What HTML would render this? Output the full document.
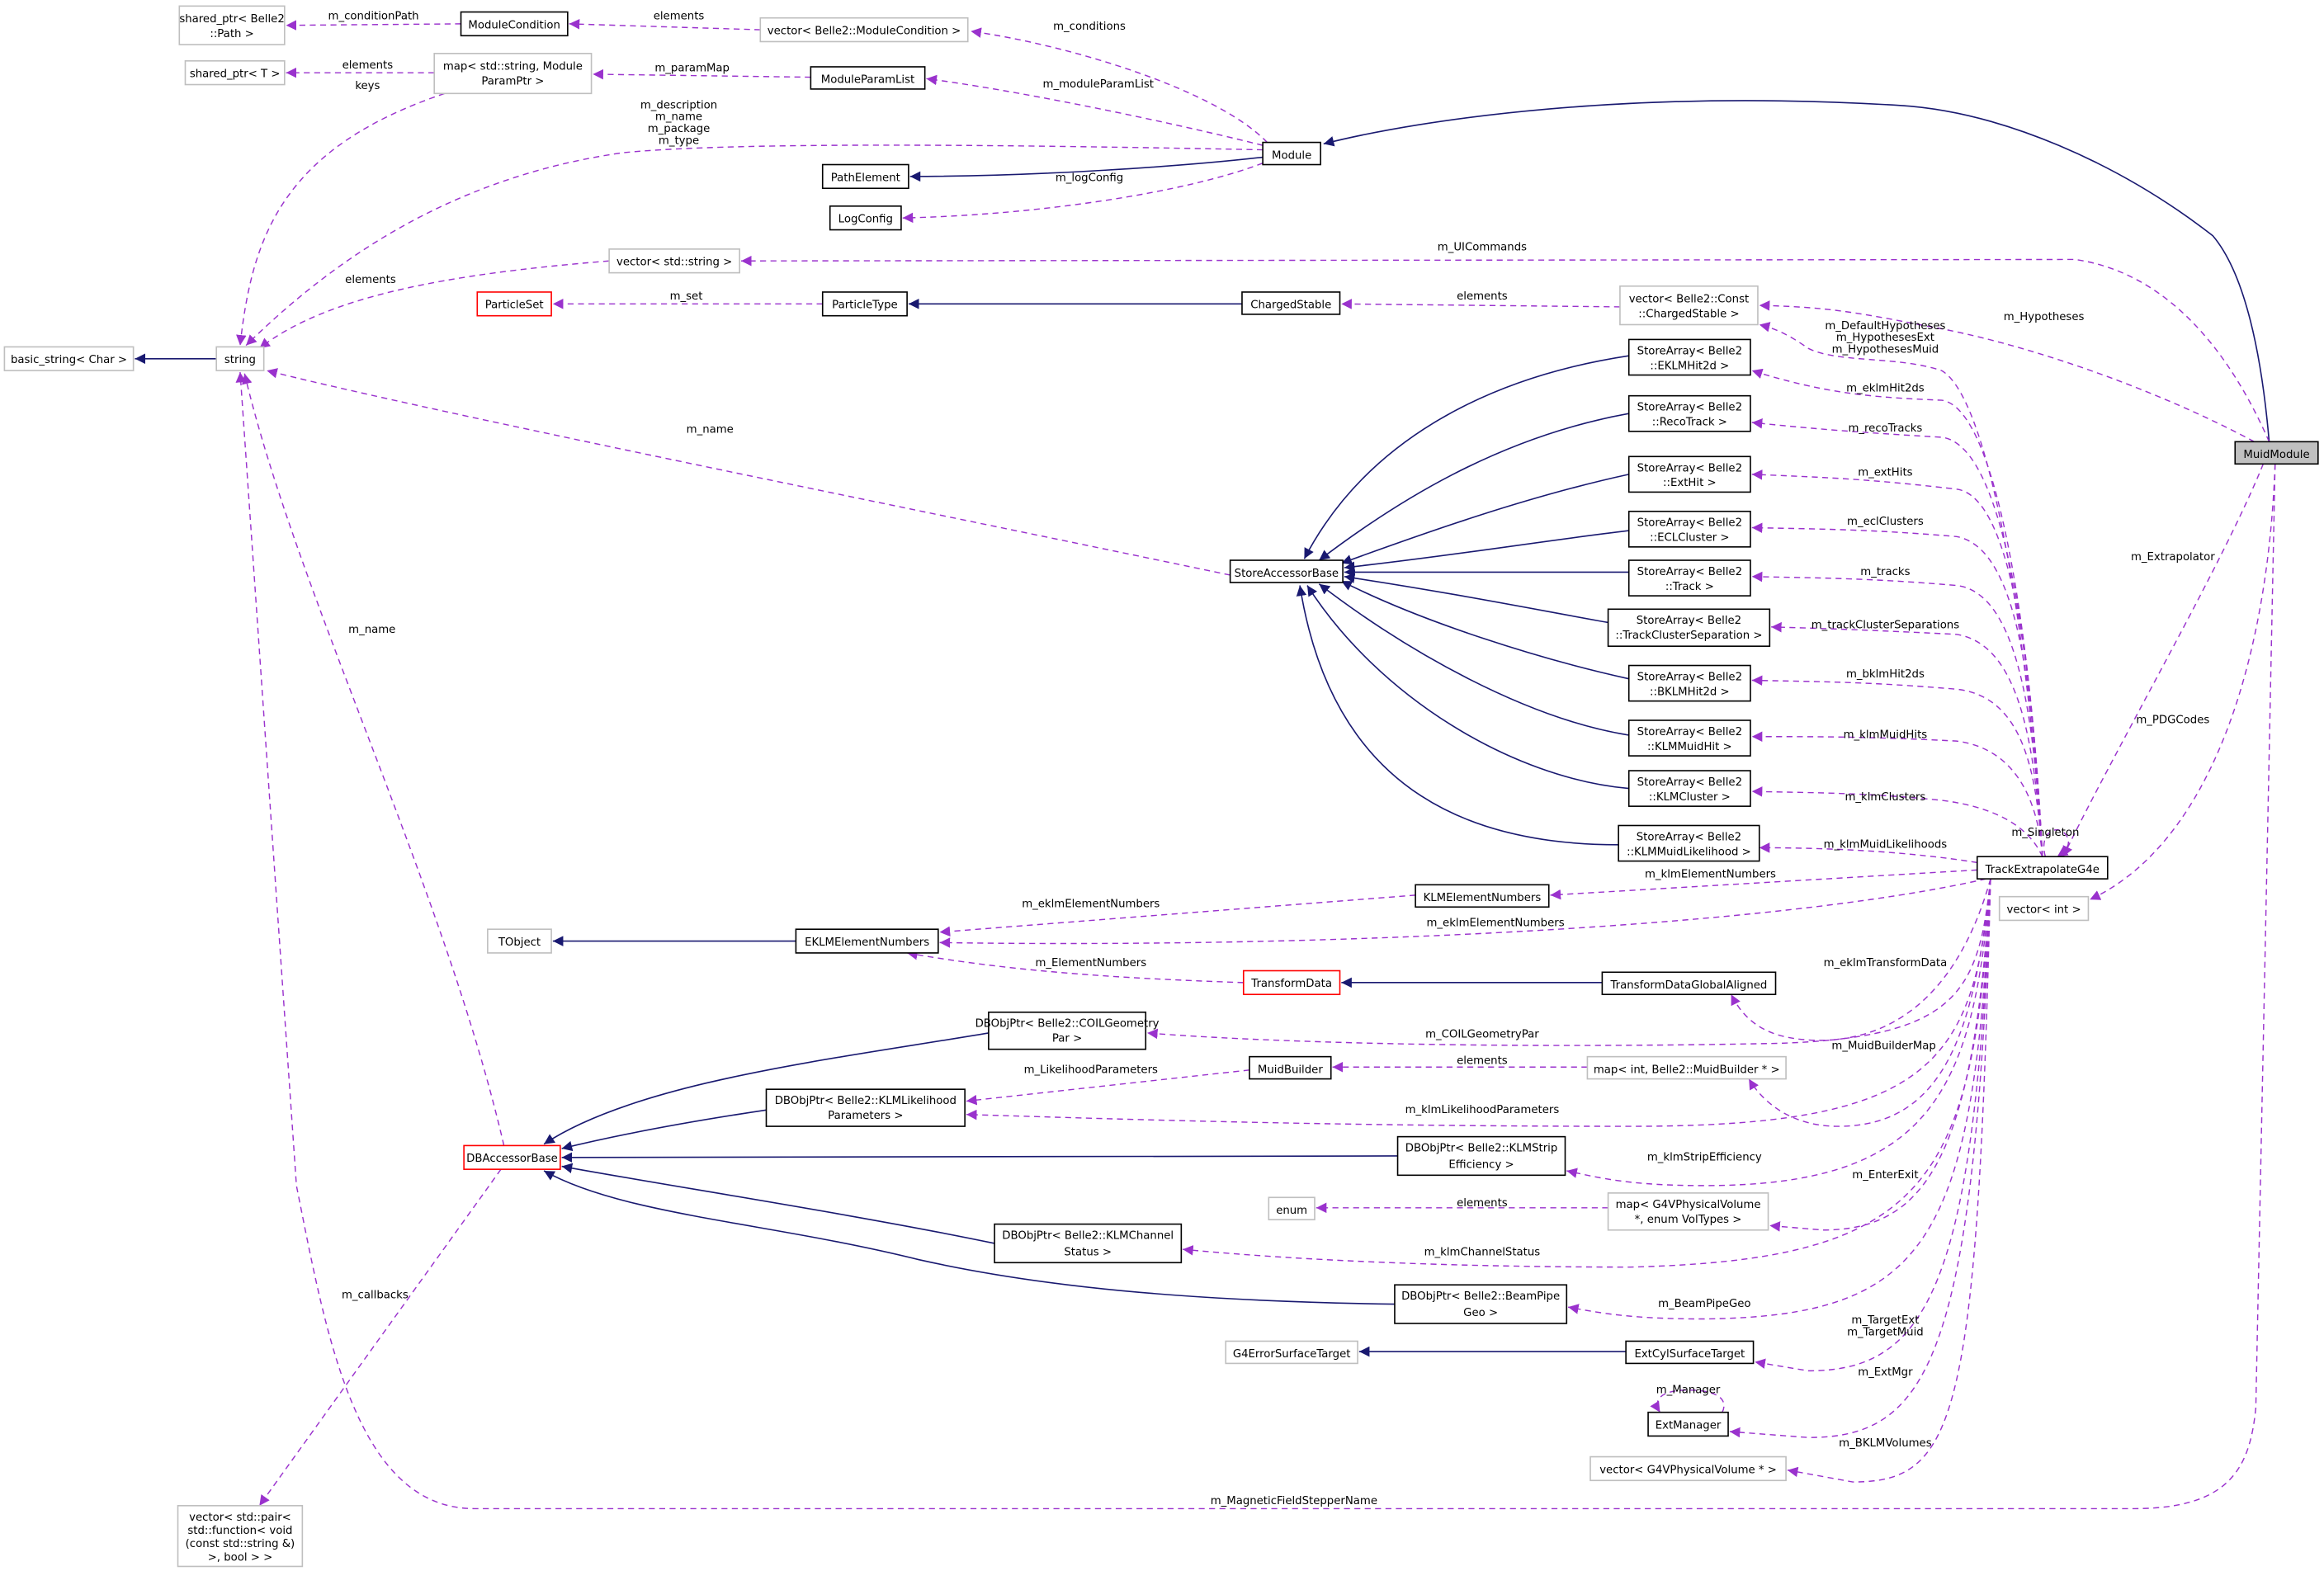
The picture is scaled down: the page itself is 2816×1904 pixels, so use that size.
<!DOCTYPE html>
<html><head><meta charset="utf-8"><style>
html,body{margin:0;padding:0;background:#fff;}
svg{display:block;}
text{font-family:"DejaVu Sans","Liberation Sans",sans-serif;font-size:7.4px;fill:#000;}
.b{fill:#fff;stroke:#000;stroke-width:0.9;}
.g{fill:#fff;stroke:#bfbfbf;stroke-width:0.9;}
.r{fill:#fff;stroke:#ff0000;stroke-width:0.9;}
.s{fill:#c0c0c0;stroke:#000;stroke-width:0.9;}
.n{fill:none;stroke:#191970;stroke-width:0.9;}
.p{fill:none;stroke:#9a32cd;stroke-width:0.8;stroke-dasharray:4,3;}
</style></head><body>
<svg width="2816" height="1904" viewBox="0 0 1568 1060" xmlns="http://www.w3.org/2000/svg">
<defs>
<marker id="an" viewBox="0 0 10 10" refX="10" refY="5" markerWidth="7" markerHeight="7" orient="auto" markerUnits="userSpaceOnUse"><path d="M0,0 L10,5 L0,10 z" fill="#191970"/></marker>
<marker id="ap" viewBox="0 0 10 10" refX="10" refY="5" markerWidth="7" markerHeight="7" orient="auto" markerUnits="userSpaceOnUse"><path d="M0,0 L10,5 L0,10 z" fill="#9a32cd"/></marker>
</defs>
<rect width="1568" height="1060" fill="#fff"/>

<g marker-end="url(#an)">
<path class="n" d="M1531,298 C1526,240 1515,185 1493,159 C1430,110 1350,75 1281,71 C1100,60 960,80 893,97"/>
<path class="n" d="M852,106 C800,112 700,119 614,119"/>
<path class="n" d="M838,205 L613,205"/>
<path class="n" d="M146,242 L91,242"/>
<path class="n" d="M1099,240 C1000,255 920,300 880,377"/>
<path class="n" d="M1099,279 C1010,295 940,340 890,378"/>
<path class="n" d="M1099,320 C1030,335 960,360 905,380"/>
<path class="n" d="M1099,358 C1040,365 980,375 907,383"/>
<path class="n" d="M1099,386 L907,386"/>
<path class="n" d="M1085,420 C1040,412 980,400 907,389"/>
<path class="n" d="M1099,458 C1040,445 960,420 905,392"/>
<path class="n" d="M1099,496 C1030,485 950,440 890,394"/>
<path class="n" d="M1099,532 C1020,525 930,470 882,395"/>
<path class="n" d="M1092,570 C1000,570 900,540 877,395"/>
<path class="n" d="M1081,663 L905,663"/>
<path class="n" d="M1097,912 L917,912"/>
<path class="n" d="M537,635 L373,635"/>
<path class="n" d="M667,697 C560,715 430,730 367,772"/>
<path class="n" d="M517,749 C470,756 420,765 379,775"/>
<path class="n" d="M943,780 L379,781"/>
<path class="n" d="M671,839 C580,820 450,800 379,787"/>
<path class="n" d="M941,880 C800,878 700,868 620,850 C520,825 420,820 367,790"/>
</g>

<g marker-end="url(#ap)">
<path class="p" d="M311,16 L193,17"/>
<path class="p" d="M513,20 L384,16"/>
<path class="p" d="M855,96 C820,60 720,30 655,21"/>
<path class="p" d="M293,49 L193,49"/>
<path class="p" d="M547,52 L400,50"/>
<path class="p" d="M852,98 C780,80 680,60 625,53"/>
<path class="p" d="M300,63 C190,100 170,160 162,233"/>
<path class="p" d="M852,101 C700,98 500,95 420,103 C300,120 220,180 166,233"/>
<path class="p" d="M852,110 C800,130 700,145 609,147"/>
<path class="p" d="M1531,298 C1510,250 1470,185 1400,175 L500,176"/>
<path class="p" d="M411,176 C300,185 220,200 175,235"/>
<path class="p" d="M555,205 L373,205"/>
<path class="p" d="M1093,207 L905,205"/>
<path class="p" d="M1521,298 C1450,260 1360,230 1300,220 C1250,210 1230,207 1187,206"/>
<path class="p" d="M1378,578 C1370,450 1345,270 1310,250 C1280,240 1240,245 1220,235 C1210,228 1200,222 1187,219"/>
<path class="p" d="M830,388 C600,340 300,280 180,250"/>
<path class="p" d="M1378,578 C1372,450 1350,275 1310,270 C1260,268 1230,265 1182,250"/>
<path class="p" d="M1378,578 C1372,460 1355,300 1310,295 C1260,292 1230,290 1182,285"/>
<path class="p" d="M1378,578 C1372,470 1360,335 1320,330 C1260,323 1230,322 1182,320"/>
<path class="p" d="M1378,578 C1372,480 1365,370 1320,362 C1260,357 1230,357 1182,356"/>
<path class="p" d="M1378,578 C1373,500 1365,400 1320,395 C1260,390 1230,390 1182,389"/>
<path class="p" d="M1378,578 C1373,510 1365,435 1320,428 C1260,425 1230,424 1195,423"/>
<path class="p" d="M1378,578 C1374,520 1365,470 1320,465 C1260,460 1230,460 1182,459"/>
<path class="p" d="M1378,578 C1375,540 1360,505 1320,500 C1260,497 1230,497 1182,497"/>
<path class="p" d="M1378,578 C1370,560 1350,545 1310,540 C1260,535 1230,535 1182,534"/>
<path class="p" d="M1334,582 C1290,575 1240,572 1187,572"/>
<path class="p" d="M1380,578 C1375,560 1390,555 1395,565 C1397,570 1394,574 1388,578"/>
<path class="p" d="M1527,313 C1500,380 1430,500 1392,578"/>
<path class="p" d="M1535,313 C1530,450 1490,570 1410,607"/>
<path class="p" d="M1535,313 L1522,950 C1518,990 1505,1018 1440,1018 L320,1018 C240,1018 220,900 200,800 L162,251"/>
<path class="p" d="M1334,587 L1046,604"/>
<path class="p" d="M955,604 L634,629"/>
<path class="p" d="M1340,593 C1200,625 900,640 634,636"/>
<path class="p" d="M839,663 C750,660 680,655 612,643"/>
<path class="p" d="M1343,593 C1330,640 1300,700 1230,702 C1200,702 1180,695 1168,671"/>
<path class="p" d="M1343,593 C1335,670 1320,700 1200,704 C1000,708 850,703 774,697"/>
<path class="p" d="M1071,720 L899,720"/>
<path class="p" d="M1343,593 C1332,700 1310,760 1240,760 C1210,760 1190,745 1180,728"/>
<path class="p" d="M843,722 L652,743"/>
<path class="p" d="M1343,593 C1332,720 1300,760 1100,760 C900,760 750,755 652,752"/>
<path class="p" d="M1343,593 C1332,740 1300,800 1150,800 C1100,800 1080,795 1057,790"/>
<path class="p" d="M1085,815 L888,815"/>
<path class="p" d="M1343,593 C1332,780 1300,830 1230,830 L1194,827"/>
<path class="p" d="M1343,593 C1332,800 1300,850 1100,855 C950,855 850,848 798,843"/>
<path class="p" d="M1343,593 C1332,840 1300,888 1150,890 C1100,890 1080,886 1058,882"/>
<path class="p" d="M1343,593 C1332,870 1300,925 1220,925 L1184,919"/>
<path class="p" d="M1343,593 C1332,920 1300,970 1220,970 L1167,966"/>
<path class="p" d="M1343,593 C1334,960 1320,1000 1250,1000 L1206,992"/>
<path class="p" d="M1162,953 C1166,945 1160,938 1139,938 C1120,938 1115,945 1120,953"/>
<path class="p" d="M338,789 L175,1016"/>
<path class="p" d="M340,773 C300,600 200,400 165,252"/>
</g>

<g>
<rect class="g" x="121" y="4" width="71" height="26"/><text x="156.5" y="15" text-anchor="middle">shared_ptr&lt; Belle2</text><text x="156.5" y="25" text-anchor="middle">::Path &gt;</text>
<rect class="b" x="311" y="8" width="72" height="16"/><text x="347" y="19" text-anchor="middle">ModuleCondition</text>
<rect class="g" x="513" y="12" width="140" height="16"/><text x="583" y="23" text-anchor="middle">vector&lt; Belle2::ModuleCondition &gt;</text>
<rect class="g" x="125" y="41" width="67" height="16"/><text x="158.5" y="52" text-anchor="middle">shared_ptr&lt; T &gt;</text>
<rect class="g" x="293" y="36" width="106" height="27"/><text x="346" y="47" text-anchor="middle">map&lt; std::string, Module</text><text x="346" y="57" text-anchor="middle">ParamPtr &gt;</text>
<rect class="b" x="547" y="45" width="77" height="15"/><text x="585.5" y="56" text-anchor="middle">ModuleParamList</text>
<rect class="b" x="852" y="96" width="39" height="15"/><text x="871.5" y="107" text-anchor="middle">Module</text>
<rect class="b" x="555" y="111" width="58" height="16"/><text x="584" y="122" text-anchor="middle">PathElement</text>
<rect class="b" x="560" y="139" width="48" height="16"/><text x="584" y="150" text-anchor="middle">LogConfig</text>
<rect class="g" x="411" y="168" width="88" height="16"/><text x="455" y="179" text-anchor="middle">vector&lt; std::string &gt;</text>
<rect class="r" x="322" y="197" width="50" height="16"/><text x="347" y="208" text-anchor="middle">ParticleSet</text>
<rect class="b" x="555" y="197" width="57" height="16"/><text x="583.5" y="208" text-anchor="middle">ParticleType</text>
<rect class="b" x="838" y="197" width="66" height="15"/><text x="871" y="208" text-anchor="middle">ChargedStable</text>
<rect class="g" x="1093" y="193" width="93" height="26"/><text x="1139.5" y="204" text-anchor="middle">vector&lt; Belle2::Const</text><text x="1139.5" y="214" text-anchor="middle">::ChargedStable &gt;</text>
<rect class="g" x="3" y="234" width="87" height="16"/><text x="46.5" y="245" text-anchor="middle">basic_string&lt; Char &gt;</text>
<rect class="g" x="146" y="234" width="32" height="16"/><text x="162" y="245" text-anchor="middle">string</text>
<rect class="s" x="1508" y="298" width="56" height="15"/><text x="1536" y="309" text-anchor="middle">MuidModule</text>
<rect class="b" x="830" y="378" width="76" height="15"/><text x="868" y="389" text-anchor="middle">StoreAccessorBase</text>

<rect class="b" x="1099" y="229" width="82" height="24"/><text x="1140" y="239" text-anchor="middle">StoreArray&lt; Belle2</text><text x="1140" y="249" text-anchor="middle">::EKLMHit2d &gt;</text>
<rect class="b" x="1099" y="267" width="82" height="24"/><text x="1140" y="277" text-anchor="middle">StoreArray&lt; Belle2</text><text x="1140" y="287" text-anchor="middle">::RecoTrack &gt;</text>
<rect class="b" x="1099" y="308" width="82" height="24"/><text x="1140" y="318" text-anchor="middle">StoreArray&lt; Belle2</text><text x="1140" y="328" text-anchor="middle">::ExtHit &gt;</text>
<rect class="b" x="1099" y="345" width="82" height="24"/><text x="1140" y="355" text-anchor="middle">StoreArray&lt; Belle2</text><text x="1140" y="365" text-anchor="middle">::ECLCluster &gt;</text>
<rect class="b" x="1099" y="378" width="82" height="24"/><text x="1140" y="388" text-anchor="middle">StoreArray&lt; Belle2</text><text x="1140" y="398" text-anchor="middle">::Track &gt;</text>
<rect class="b" x="1085" y="411" width="109" height="25"/><text x="1139.5" y="421" text-anchor="middle">StoreArray&lt; Belle2</text><text x="1139.5" y="431" text-anchor="middle">::TrackClusterSeparation &gt;</text>
<rect class="b" x="1099" y="449" width="82" height="24"/><text x="1140" y="459" text-anchor="middle">StoreArray&lt; Belle2</text><text x="1140" y="469" text-anchor="middle">::BKLMHit2d &gt;</text>
<rect class="b" x="1099" y="486" width="82" height="24"/><text x="1140" y="496" text-anchor="middle">StoreArray&lt; Belle2</text><text x="1140" y="506" text-anchor="middle">::KLMMuidHit &gt;</text>
<rect class="b" x="1099" y="520" width="82" height="24"/><text x="1140" y="530" text-anchor="middle">StoreArray&lt; Belle2</text><text x="1140" y="540" text-anchor="middle">::KLMCluster &gt;</text>
<rect class="b" x="1092" y="557" width="95" height="24"/><text x="1139.5" y="567" text-anchor="middle">StoreArray&lt; Belle2</text><text x="1139.5" y="577" text-anchor="middle">::KLMMuidLikelihood &gt;</text>

<rect class="b" x="1334" y="578" width="88" height="15"/><text x="1378" y="589" text-anchor="middle">TrackExtrapolateG4e</text>
<rect class="g" x="1349" y="605" width="60" height="16"/><text x="1379" y="616" text-anchor="middle">vector&lt; int &gt;</text>
<rect class="b" x="955" y="597" width="90" height="15"/><text x="1000" y="608" text-anchor="middle">KLMElementNumbers</text>
<rect class="g" x="329" y="627" width="43" height="16"/><text x="350.5" y="638" text-anchor="middle">TObject</text>
<rect class="b" x="537" y="627" width="96" height="16"/><text x="585" y="638" text-anchor="middle">EKLMElementNumbers</text>
<rect class="r" x="839" y="655" width="65" height="16"/><text x="871.5" y="666" text-anchor="middle">TransformData</text>
<rect class="b" x="1081" y="656" width="117" height="15"/><text x="1139.5" y="667" text-anchor="middle">TransformDataGlobalAligned</text>
<rect class="b" x="667" y="683" width="106" height="25"/><text x="720" y="693" text-anchor="middle">DBObjPtr&lt; Belle2::COILGeometry</text><text x="720" y="703" text-anchor="middle">Par &gt;</text>
<rect class="b" x="843" y="713" width="55" height="15"/><text x="870.5" y="724" text-anchor="middle">MuidBuilder</text>
<rect class="g" x="1071" y="713" width="134" height="15"/><text x="1138" y="724" text-anchor="middle">map&lt; int, Belle2::MuidBuilder * &gt;</text>
<rect class="b" x="517" y="735" width="134" height="25"/><text x="584" y="745" text-anchor="middle">DBObjPtr&lt; Belle2::KLMLikelihood</text><text x="584" y="755" text-anchor="middle">Parameters &gt;</text>
<rect class="r" x="313" y="773" width="65" height="16"/><text x="345.5" y="784" text-anchor="middle">DBAccessorBase</text>
<rect class="b" x="943" y="767" width="113" height="26"/><text x="999.5" y="777" text-anchor="middle">DBObjPtr&lt; Belle2::KLMStrip</text><text x="999.5" y="788" text-anchor="middle">Efficiency &gt;</text>
<rect class="g" x="856" y="808" width="31" height="15"/><text x="871.5" y="819" text-anchor="middle">enum</text>
<rect class="g" x="1085" y="805" width="108" height="25"/><text x="1139" y="815" text-anchor="middle">map&lt; G4VPhysicalVolume</text><text x="1139" y="825" text-anchor="middle">*, enum VolTypes &gt;</text>
<rect class="b" x="671" y="826" width="126" height="26"/><text x="734" y="836" text-anchor="middle">DBObjPtr&lt; Belle2::KLMChannel</text><text x="734" y="847" text-anchor="middle">Status &gt;</text>
<rect class="b" x="941" y="867" width="116" height="26"/><text x="999" y="877" text-anchor="middle">DBObjPtr&lt; Belle2::BeamPipe</text><text x="999" y="888" text-anchor="middle">Geo &gt;</text>
<rect class="g" x="827" y="905" width="89" height="15"/><text x="871.5" y="916" text-anchor="middle">G4ErrorSurfaceTarget</text>
<rect class="b" x="1097" y="905" width="86" height="15"/><text x="1140" y="916" text-anchor="middle">ExtCylSurfaceTarget</text>
<rect class="b" x="1112" y="953" width="54" height="16"/><text x="1139" y="964" text-anchor="middle">ExtManager</text>
<rect class="g" x="1073" y="983" width="132" height="16"/><text x="1139" y="994" text-anchor="middle">vector&lt; G4VPhysicalVolume * &gt;</text>
<rect class="g" x="120" y="1016" width="84" height="41"/><text x="162" y="1026" text-anchor="middle">vector&lt; std::pair&lt;</text><text x="162" y="1035" text-anchor="middle">std::function&lt; void</text><text x="162" y="1044" text-anchor="middle">(const std::string &amp;)</text><text x="162" y="1053" text-anchor="middle">&gt;, bool &gt; &gt;</text>
</g>

<g text-anchor="middle">
<text x="252" y="13">m_conditionPath</text>
<text x="458" y="13">elements</text>
<text x="735" y="20">m_conditions</text>
<text x="248" y="46">elements</text>
<text x="248" y="60">keys</text>
<text x="467" y="48">m_paramMap</text>
<text x="741" y="59">m_moduleParamList</text>
<text x="458" y="73">m_description</text>
<text x="458" y="81">m_name</text>
<text x="458" y="89">m_package</text>
<text x="458" y="97">m_type</text>
<text x="735" y="122">m_logConfig</text>
<text x="1000" y="169">m_UICommands</text>
<text x="250" y="191">elements</text>
<text x="463" y="202">m_set</text>
<text x="1000" y="202">elements</text>
<text x="1379" y="216">m_Hypotheses</text>
<text x="1272" y="222">m_DefaultHypotheses</text>
<text x="1272" y="230">m_HypothesesExt</text>
<text x="1272" y="238">m_HypothesesMuid</text>
<text x="1272" y="264">m_eklmHit2ds</text>
<text x="479" y="292">m_name</text>
<text x="1272" y="291">m_recoTracks</text>
<text x="1272" y="321">m_extHits</text>
<text x="1272" y="354">m_eclClusters</text>
<text x="1466" y="378">m_Extrapolator</text>
<text x="1272" y="388">m_tracks</text>
<text x="1272" y="424">m_trackClusterSeparations</text>
<text x="251" y="427">m_name</text>
<text x="1272" y="457">m_bklmHit2ds</text>
<text x="1466" y="488">m_PDGCodes</text>
<text x="1272" y="498">m_klmMuidHits</text>
<text x="1272" y="540">m_klmClusters</text>
<text x="1380" y="564">m_Singleton</text>
<text x="1272" y="572">m_klmMuidLikelihoods</text>
<text x="1154" y="592">m_klmElementNumbers</text>
<text x="736" y="612">m_eklmElementNumbers</text>
<text x="1009" y="625">m_eklmElementNumbers</text>
<text x="736" y="652">m_ElementNumbers</text>
<text x="1272" y="652">m_eklmTransformData</text>
<text x="1000" y="700">m_COILGeometryPar</text>
<text x="1271" y="708">m_MuidBuilderMap</text>
<text x="1000" y="718">elements</text>
<text x="736" y="724">m_LikelihoodParameters</text>
<text x="1000" y="751">m_klmLikelihoodParameters</text>
<text x="1150" y="783">m_klmStripEfficiency</text>
<text x="1272" y="795">m_EnterExit</text>
<text x="1000" y="814">elements</text>
<text x="1000" y="847">m_klmChannelStatus</text>
<text x="253" y="876">m_callbacks</text>
<text x="1150" y="882">m_BeamPipeGeo</text>
<text x="1272" y="893">m_TargetExt</text>
<text x="1272" y="901">m_TargetMuid</text>
<text x="1272" y="928">m_ExtMgr</text>
<text x="1139" y="940">m_Manager</text>
<text x="1272" y="976">m_BKLMVolumes</text>
<text x="873" y="1015">m_MagneticFieldStepperName</text>
</g>
</svg>
</body></html>
